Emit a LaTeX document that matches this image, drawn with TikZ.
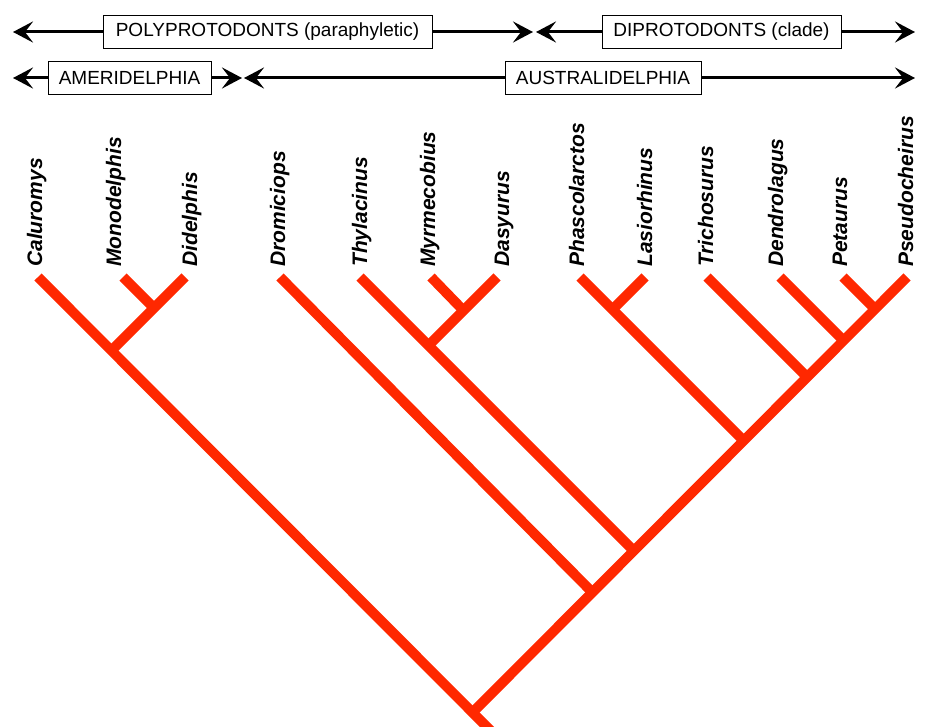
\documentclass[tikz,border=0pt]{standalone}
\usepackage{fontspec}
\setmainfont{Liberation Sans}
\usetikzlibrary{arrows.meta,calc}
\definecolor{treered}{RGB}{255,40,0}
\tikzset{
  branch/.style={draw=treered, line width=10pt, line cap=butt},
  taxon/.style={rotate=90, anchor=base west, inner sep=0pt, font=\fontsize{21}{21}\selectfont\bfseries\itshape},
  cladebox/.style={draw, line width=1pt, fill=white, inner sep=0pt, minimum height=33pt, font=\fontsize{19}{19}\selectfont},
  cladearrow/.style={line width=3pt, -{Stealth[length=20pt, width=21pt, inset=8pt]}}
}

\begin{document}
\begin{tikzpicture}[x=1pt, y=-1pt]
\useasboundingbox (0,0) rectangle (925,727);
\clip (0,0) rectangle (925,727);

% clade bars
\node[cladebox, minimum width=329pt] (polyBox) at (267.5,32) {POLYPROTODONTS (paraphyletic)};
\node[cladebox, minimum width=239pt] (diproBox) at (721.5,32) {DIPROTODONTS (clade)};
\node[cladebox, minimum width=163pt] (ameriBox) at (129.5,78) {AMERIDELPHIA};
\node[cladebox, minimum width=196pt] (austBox) at (603,78) {AUSTRALIDELPHIA};
\coordinate (polyL) at (13,32);
\coordinate (polyR) at (533,32);
\coordinate (diproL) at (536,32);
\coordinate (diproR) at (915,32);
\coordinate (ameriL) at (13,78);
\coordinate (ameriR) at (242,78);
\coordinate (austL) at (244,78);
\coordinate (austR) at (915,78);
\draw[cladearrow] (polyBox.west) -- (polyL);
\draw[cladearrow] (polyBox.east) -- (polyR);
\draw[cladearrow] (diproBox.west) -- (diproL);
\draw[cladearrow] (diproBox.east) -- (diproR);
\draw[cladearrow] (ameriBox.west) -- (ameriL);
\draw[cladearrow] (ameriBox.east) -- (ameriR);
\draw[cladearrow] (austBox.west) -- (austL);
\draw[cladearrow] (austBox.east) -- (austR);

% tips and names
\foreach \name/\x/\lx in {Caluromys/38/42, Monodelphis/123/121, Didelphis/185/197,
    Dromiciops/280/285, Thylacinus/360/367, Myrmecobius/431/435, Dasyurus/497/509,
    Phascolarctos/580/584, Lasiorhinus/645/652, Trichosurus/707/713,
    Dendrolagus/780/783, Petaurus/843/847, Pseudocheirus/907/913} {
  \coordinate (\name) at (\x,277);
  \node[taxon] (\name Label) at (\lx,267) {\name};
}

% junctions
\coordinate (jMonoDid) at (154,308);
\coordinate (jAmeri) at (111,351);
\coordinate (root) at (472.5,712.5);
\coordinate (stem) at (500,740);
\coordinate (jDrom) at (592.5,592.5);
\coordinate (jThyl) at (634,551);
\coordinate (jMyrDas) at (463.5,310.5);
\coordinate (jDasyu) at (428.5,345.5);
\coordinate (jPhaLas) at (612.5,309.5);
\coordinate (jVomb) at (744,441);
\coordinate (jTrich) at (807.5,377.5);
\coordinate (jDendr) at (844,341);
\coordinate (jPetau) at (875.5,309.5);

% branches
\draw[branch] (Caluromys) -- (stem);
\draw[branch] (Monodelphis) -- (jMonoDid);
\draw[branch] (Didelphis) -- (jAmeri);
\draw[branch] (root) -- (Pseudocheirus);
\draw[branch] (Dromiciops) -- (jDrom);
\draw[branch] (Thylacinus) -- (jThyl);
\draw[branch] (Myrmecobius) -- (jMyrDas);
\draw[branch] (Dasyurus) -- (jDasyu);
\draw[branch] (Phascolarctos) -- (jVomb);
\draw[branch] (Lasiorhinus) -- (jPhaLas);
\draw[branch] (Trichosurus) -- (jTrich);
\draw[branch] (Dendrolagus) -- (jDendr);
\draw[branch] (Petaurus) -- (jPetau);
\end{tikzpicture}
\end{document}
